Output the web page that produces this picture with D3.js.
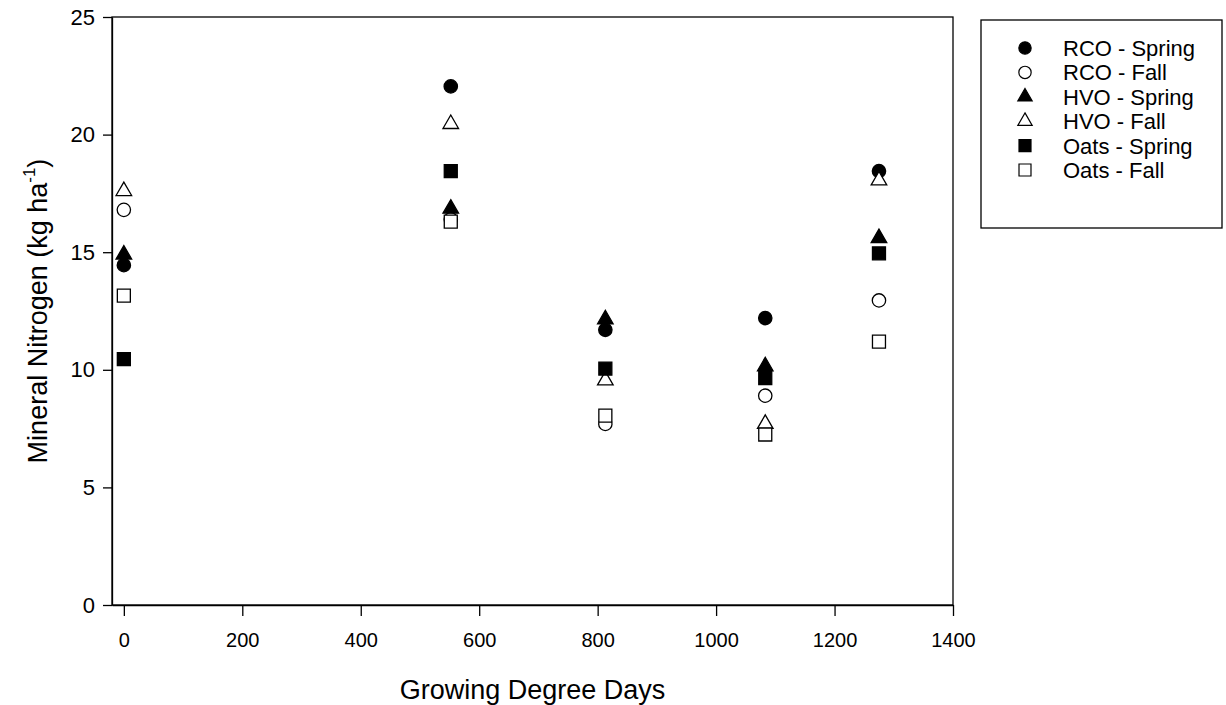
<!DOCTYPE html>
<html>
<head>
<meta charset="utf-8">
<script src="https://cdn.jsdelivr.net/npm/d3@7"></script>
<style>
  body { margin: 0; background: #fff; }
  text { font-family: "Liberation Sans", Arial, sans-serif; fill: #000; }
  .axis path, .axis line { stroke: #000; stroke-width: 1.3; }
  .axis text { font-size: 19px; }
</style>
</head>
<body>
<div id="chart"></div>
<script>
// growing degree days for each sampling date
var gdd = [0, 552, 813, 1083, 1275];

var seriesNames = ["RCO - Spring", "RCO - Fall", "HVO - Spring", "HVO - Fall", "Oats - Spring", "Oats - Fall"];

// mineral N (kg/ha) per series
var rcoSpring  = [14.45, 22.05, 11.7, 12.2, 18.45];
var rcoFall    = [16.8, 16.4, 7.7, 8.9, 12.95];
var hvoSpring  = [14.9, 16.85, 12.15, 10.15, 15.6];
var hvoFall    = [17.6, 20.45, 9.55, 7.7, 18.05];
var oatsSpring = [10.45, 18.45, 10.05, 9.65, 14.95];
var oatsFall   = [13.15, 16.3, 8.05, 7.25, 11.2];

var xTicks = [0, 200, 400, 600, 800, 1000, 1200, 1400];
var yTicks = [0, 5, 10, 15, 20, 25];

function init() {
    var w = 1226, h = 705;
    var left = 112, right = 953, top = 17, bottom = 605;

    var svg = d3.select("#chart").append("svg")
        .attr("width", w)
        .attr("height", h);

    var xScale = d3.scaleLinear().domain([-20, 1400]).range([left, right]);
    var yScale = d3.scaleLinear().domain([0, 25]).range([bottom, top]);

    // frame
    svg.append("rect")
        .attr("x", left).attr("y", top)
        .attr("width", right - left).attr("height", bottom - top)
        .attr("fill", "none").attr("stroke", "#000").attr("stroke-width", 1.3);

    var xAxis = d3.axisBottom(xScale).tickValues(xTicks).tickFormat(d3.format("d"))
        .tickSize(11).tickPadding(17).tickSizeOuter(0);
    var yAxis = d3.axisLeft(yScale).tickValues(yTicks).tickFormat(d3.format("d"))
        .tickSize(9).tickPadding(8).tickSizeOuter(0);

    svg.append("g")
        .attr("class", "axis")
        .attr("transform", "translate(0," + bottom + ")")
        .call(xAxis)
        .selectAll("text").style("font-size", "20px");

    svg.append("g")
        .attr("class", "axis")
        .attr("transform", "translate(" + left + ",0)")
        .call(yAxis)
        .selectAll("text").style("font-size", "22px");

    // axis titles
    svg.append("text")
        .attr("x", (left + right) / 2)
        .attr("y", 699)
        .attr("text-anchor", "middle")
        .style("font-size", "27px")
        .text("Growing Degree Days");

    var yt = svg.append("text")
        .attr("transform", "translate(47," + ((top + bottom) / 2) + ") rotate(-90)")
        .attr("text-anchor", "middle")
        .style("font-size", "27px");
    yt.append("tspan").text("Mineral Nitrogen (kg ha");
    yt.append("tspan").attr("dy", -12).style("font-size", "17px").text("-1");
    yt.append("tspan").attr("dy", 12).text(")");

    var styles = [
        { shape: d3.symbolCircle, size: 140, fill: "#000" },
        { shape: d3.symbolCircle, size: 140, fill: "#fff" },
        { shape: d3.symbolTriangle, size: 105, fill: "#000" },
        { shape: d3.symbolTriangle, size: 105, fill: "#fff" },
        { shape: d3.symbolSquare, size: 169, fill: "#000" },
        { shape: d3.symbolSquare, size: 169, fill: "#fff" }
    ];
    var allValues = [rcoSpring, rcoFall, hvoSpring, hvoFall, oatsSpring, oatsFall];

    allValues.forEach(function(vals, i) {
        var st = styles[i];
        var sym = d3.symbol().type(st.shape).size(st.size);
        svg.append("g").selectAll("path")
            .data(vals)
            .enter().append("path")
            .attr("d", sym)
            .attr("transform", function(d, j) { return "translate(" + xScale(gdd[j]) + "," + yScale(d) + ")"; })
            .attr("fill", st.fill)
            .attr("stroke", "#000")
            .attr("stroke-width", 1.3);
    });

    // legend
    var lg = svg.append("g").attr("transform", "translate(981,20)");
    lg.append("rect")
        .attr("width", 241).attr("height", 208)
        .attr("fill", "#fff").attr("stroke", "#000").attr("stroke-width", 1.3);

    seriesNames.forEach(function(name, i) {
        var st = styles[i];
        var yy = 28 + i * 24.4;
        lg.append("path")
            .attr("d", d3.symbol().type(st.shape).size(st.size * 0.85))
            .attr("transform", "translate(44," + yy + ")")
            .attr("fill", st.fill)
            .attr("stroke", "#000")
            .attr("stroke-width", 1.2);
        lg.append("text")
            .attr("x", 82)
            .attr("y", yy + 8)
            .style("font-size", "22px")
            .text(name);
    });
}

window.onload = init;
</script>
</body>
</html>
